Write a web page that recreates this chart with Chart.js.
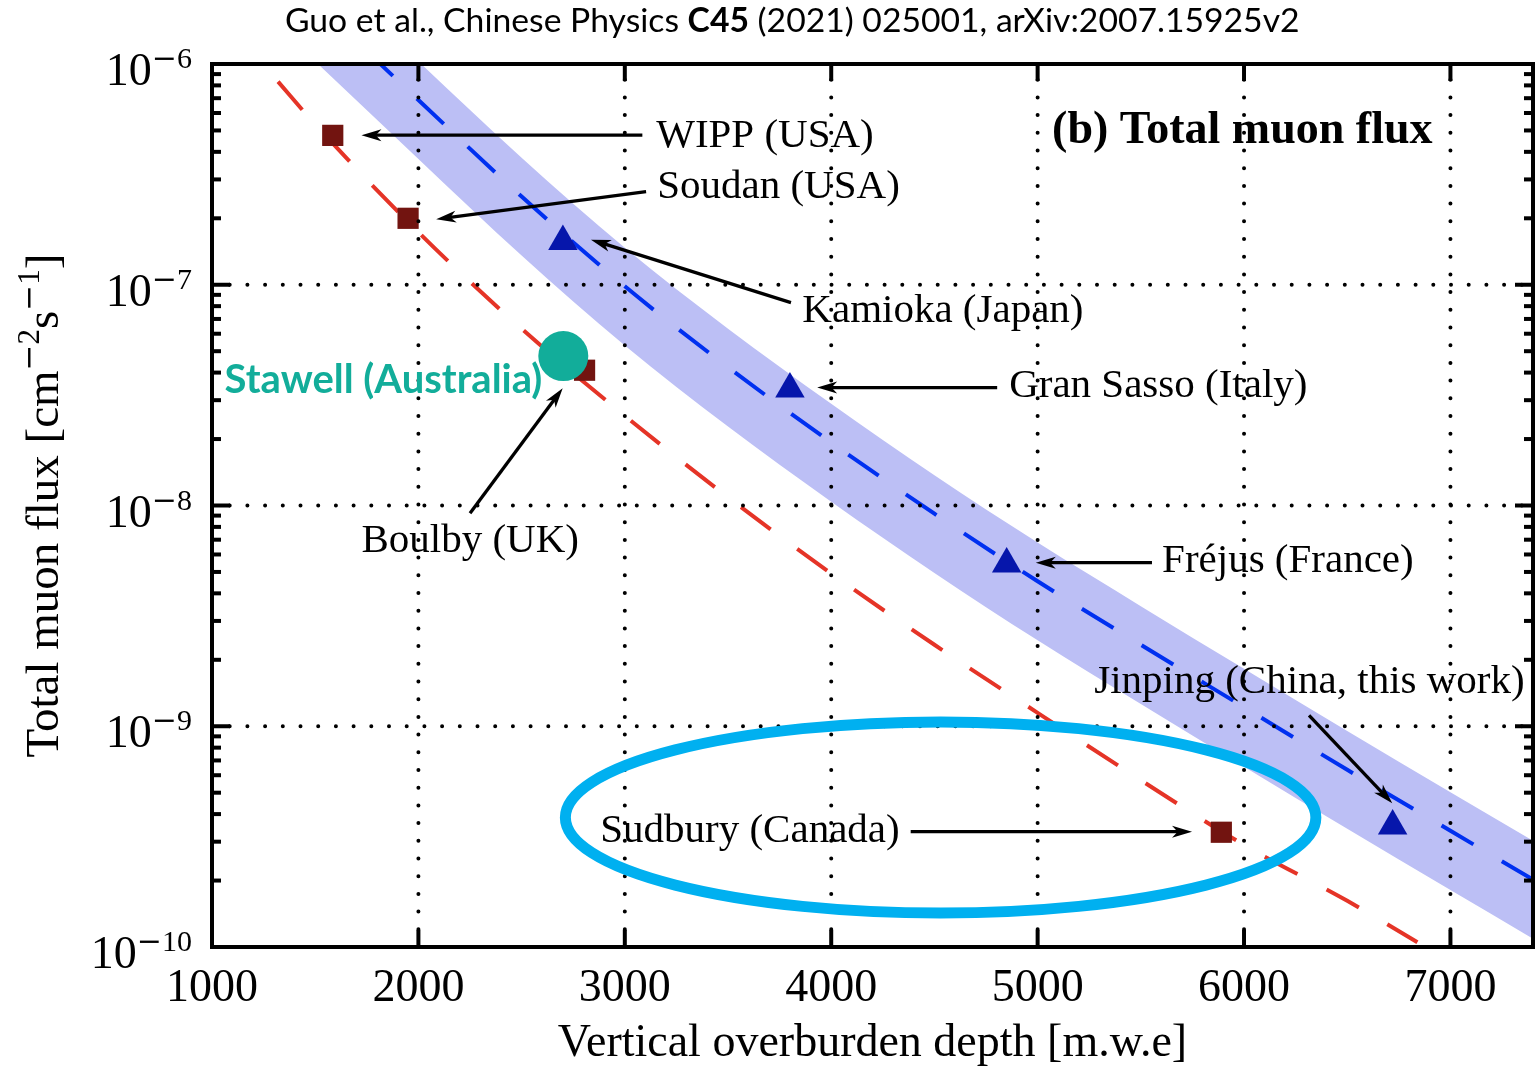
<!DOCTYPE html>
<html>
<head>
<meta charset="utf-8">
<script src="https://cdn.jsdelivr.net/npm/chart.js@4.4.1/dist/chart.umd.min.js"></script>
<style>
  html, body { margin: 0; padding: 0; background: #fff; overflow: hidden; }
  #wrap { width: 1537px; height: 1067px; position: relative; }
</style>
</head>
<body>
<div id="wrap"><canvas id="canvas"></canvas></div>
<script>
// depth in m.w.e, flux in cm^-2 s^-1
const curveDepth = [1500, 2000, 2500, 3000, 3500, 4000, 4500, 5000, 5500, 6000, 6500, 7000, 7400];
const mountFlux = [1.905e-6, 6.87e-7, 2.51e-7, 9.84e-8, 4.23e-8, 1.93e-8, 9.18e-9, 4.54e-9, 2.34e-9, 1.22e-9, 6.35e-10, 3.36e-10, 2.02e-10];
const bandUpper = [2.85e-6, 1.028e-6, 3.76e-7, 1.47e-7, 6.32e-8, 2.89e-8, 1.37e-8, 6.79e-9, 3.50e-9, 1.82e-9, 9.51e-10, 5.02e-10, 3.03e-10];
const bandLower = [1.028e-6, 3.71e-7, 1.355e-7, 5.31e-8, 2.28e-8, 1.04e-8, 4.95e-9, 2.45e-9, 1.26e-9, 6.56e-10, 3.43e-10, 1.81e-10, 1.09e-10];

const flatDepth = [1320, 1500, 2000, 2500, 3000, 3500, 4000, 4500, 5000, 5500, 6000, 6500, 6840];
const flatFlux = [8.32e-7, 5.33e-7, 1.73e-7, 6.32e-8, 2.55e-8, 1.09e-8, 4.92e-9, 2.34e-9, 1.15e-9, 5.70e-10, 2.90e-10, 1.62e-10, 1.05e-10];

// flat overburden labs (squares)
const flatLabDepth = [1585, 1950, 2805, 5890];
const flatLabFlux = [4.75e-7, 2.0e-7, 4.1e-8, 3.31e-10];
// mountain labs (triangles)
const mountLabDepth = [2700, 3800, 4850, 6720];
const mountLabFlux = [1.57e-7, 3.37e-8, 5.43e-9, 3.53e-10];
// Stawell
const stawellDepth = [2702];
const stawellFlux = [4.75e-8];

const xTicks = [1000, 2000, 3000, 4000, 5000, 6000, 7000];
const yDecades = [-10, -9, -8, -7, -6];

// labels, left end of baseline in data units
const labelText = ["WIPP (USA)", "Soudan (USA)", "Kamioka (Japan)", "Gran Sasso (Italy)", "Fréjus (France)", "Jinping (China, this work)", "Sudbury (Canada)", "Boulby (UK)"];
const labelDepth = [3152, 3157, 3860, 4862, 5603, 5274, 2881, 1724];
const labelFlux = [4.21e-7, 2.47e-7, 6.81e-8, 3.11e-8, 5.01e-9, 1.42e-9, 3.00e-10, 6.18e-9];
// arrows tail -> head
const arrowFromDepth = [3085, 3103, 3805, 4804, 5554, 6315, 4385, 2250];
const arrowFromFlux = [4.76e-7, 2.64e-7, 8.30e-8, 3.42e-8, 5.51e-9, 1.12e-9, 3.33e-10, 9.23e-9];
const arrowToDepth = [1724, 2086, 2836, 3932, 4991, 6718, 5748, 2699];
const arrowToFlux = [4.76e-7, 1.98e-7, 1.60e-7, 3.42e-8, 5.51e-9, 4.48e-10, 3.33e-10, 3.40e-8];

// Sudbury ellipse: centre depth, centre flux, half width (m.w.e), half height (decades)
const ringCentre = [4530, 3.86e-10];
const ringHalf = [1818, 0.433];

const SERIF = '"Liberation Serif", "Times New Roman", serif';
const MINUS_FONT = '"DejaVu Serif", serif';
const SANS = 'Lato, "Open Sans", sans-serif';

function pts(xs, ys) {
    return xs.map((x, i) => ({x: x, y: ys[i]}));
}

function line(ctx, x1, y1, x2, y2) {
    ctx.beginPath();
    ctx.moveTo(x1, y1);
    ctx.lineTo(x2, y2);
    ctx.stroke();
}

function arrow(ctx, x1, y1, x2, y2) {
    const a = Math.atan2(y2 - y1, x2 - x1);
    const len = 20, half = 6;
    ctx.lineWidth = 3.3;
    line(ctx, x1, y1, x2 - Math.cos(a) * len * 0.7, y2 - Math.sin(a) * len * 0.7);
    ctx.save();
    ctx.translate(x2, y2);
    ctx.rotate(a);
    ctx.beginPath();
    ctx.moveTo(0, 0);
    ctx.lineTo(-len, -half);
    ctx.lineTo(-len * 0.72, 0);
    ctx.lineTo(-len, half);
    ctx.closePath();
    ctx.fill();
    ctx.restore();
}

function fitSize(ctx, parts, family, target) {
    let w = 0;
    for (const p of parts) {
        ctx.font = p[1] + '100px ' + family;
        w += ctx.measureText(p[0]).width;
    }
    return 100 * target / w;
}

// pieces of a power like 10^-6: [text, font, size, rise]
function powerPieces(base, digits, big, small, rise) {
    return [[base, SERIF, big, 0], ['\u2212', MINUS_FONT, small, rise], [digits, SERIF, small, rise]];
}

function measurePieces(ctx, pieces) {
    let w = 0;
    pieces.forEach(p => {
        ctx.font = p[2] + 'px ' + p[1];
        p[4] = ctx.measureText(p[0]).width;
        w += p[4];
    });
    return w;
}

function drawPieces(ctx, pieces, x0, y0) {
    let tx = x0;
    pieces.forEach(p => {
        ctx.font = p[2] + 'px ' + p[1];
        ctx.fillText(p[0], tx, y0 + p[3]);
        tx += p[4];
    });
}

const decor = {
    id: 'decor',
    afterDatasetsDraw(chart) {
        const ctx = chart.ctx;
        const x = chart.scales.x, y = chart.scales.y;
        const a = chart.chartArea;
        ctx.save();

        // labels
        ctx.fillStyle = '#000';
        ctx.textBaseline = 'alphabetic';
        ctx.textAlign = 'left';
        ctx.font = '41px ' + SERIF;
        labelText.forEach((t, i) => {
            ctx.fillText(t, x.getPixelForValue(labelDepth[i]), y.getPixelForValue(labelFlux[i]));
        });
        ctx.font = 'bold 46px ' + SERIF;
        ctx.fillText('(b) Total muon flux', x.getPixelForValue(5070), y.getPixelForValue(4.39e-7));

        // dotted grid
        ctx.strokeStyle = '#000';
        ctx.lineWidth = 4;
        ctx.lineCap = 'round';
        ctx.setLineDash([0, 17.7]);
        xTicks.slice(1).forEach(v => {
            const xx = x.getPixelForValue(v);
            line(ctx, xx, a.bottom, xx, a.top);
        });
        yDecades.slice(1, -1).forEach(n => {
            const yy = y.getPixelForValue(Math.pow(10, n));
            line(ctx, a.left, yy, a.right, yy);
        });
        ctx.setLineDash([]);
        ctx.lineCap = 'butt';

        // Sudbury ring
        const cx = x.getPixelForValue(ringCentre[0]);
        const cy = y.getPixelForValue(ringCentre[1]);
        const rx = x.getPixelForValue(ringCentre[0] + ringHalf[0]) - cx;
        const ry = cy - y.getPixelForValue(ringCentre[1] * Math.pow(10, ringHalf[1]));
        ctx.strokeStyle = '#00b0f0';
        ctx.lineWidth = 11;
        ctx.beginPath();
        ctx.ellipse(cx, cy, rx, ry, 0, 0, Math.PI * 2);
        ctx.stroke();

        // arrows
        ctx.strokeStyle = '#000';
        ctx.fillStyle = '#000';
        arrowFromDepth.forEach((d, i) => {
            arrow(ctx, x.getPixelForValue(d), y.getPixelForValue(arrowFromFlux[i]),
                x.getPixelForValue(arrowToDepth[i]), y.getPixelForValue(arrowToFlux[i]));
        });

        // Stawell label
        const sSize = fitSize(ctx, [['Stawell (Australia)', 'bold ']], SANS, 318);
        ctx.font = 'bold ' + sSize.toFixed(1) + 'px ' + SANS;
        ctx.fillStyle = '#12ad9a';
        ctx.fillText('Stawell (Australia)', x.getPixelForValue(1061), y.getPixelForValue(3.24e-8));
        ctx.restore();
    },
    afterDraw(chart) {
        const ctx = chart.ctx;
        const x = chart.scales.x, y = chart.scales.y;
        const a = chart.chartArea;
        ctx.save();
        ctx.strokeStyle = '#000';
        ctx.fillStyle = '#000';

        // ticks, inward on all sides
        ctx.lineWidth = 4;
        xTicks.slice(1).forEach(v => {
            const xx = x.getPixelForValue(v);
            line(ctx, xx, a.bottom, xx, a.bottom - 17);
            line(ctx, xx, a.top, xx, a.top + 17);
        });
        for (let n = -10; n < -6; n++) {
            for (let m = 1; m < 10; m++) {
                const yy = y.getPixelForValue(m * Math.pow(10, n));
                const len = m === 1 ? 18 : 9;
                line(ctx, a.left, yy, a.left + len, yy);
                line(ctx, a.right, yy, a.right - len, yy);
            }
        }
        ctx.strokeRect(a.left, a.top, a.right - a.left, a.bottom - a.top);

        // y tick labels 10^n
        ctx.textBaseline = 'alphabetic';
        ctx.textAlign = 'left';
        yDecades.forEach(n => {
            const yy = y.getPixelForValue(Math.pow(10, n));
            const pieces = powerPieces('10', String(-n), 46, 30, -17);
            const w = measurePieces(ctx, pieces);
            drawPieces(ctx, pieces, 192 - w, yy + 21);
        });

        // y title, rotated
        const segs = [['Total muon flux [cm', SERIF, 47, 0], ['\u2212', MINUS_FONT, 31, -19], ['2', SERIF, 31, -19],
            ['s', SERIF, 47, 0], ['\u2212', MINUS_FONT, 31, -19], ['1', SERIF, 31, -19], [']', SERIF, 47, 0]];
        const total = measurePieces(ctx, segs);
        ctx.save();
        ctx.translate(58, (a.top + a.bottom) / 2);
        ctx.rotate(-Math.PI / 2);
        drawPieces(ctx, segs, -total / 2, 0);
        ctx.restore();

        // top caption
        const parts = [['Guo et al., Chinese Physics ', ''], ['C45', 'bold '], [' (2021) 025001, arXiv:2007.15925v2', '']];
        const size = fitSize(ctx, parts, SANS, 1015);
        let cx = 285;
        parts.forEach(p => {
            ctx.font = p[1] + size.toFixed(1) + 'px ' + SANS;
            ctx.fillText(p[0], cx, 32);
            cx += ctx.measureText(p[0]).width;
        });
        ctx.restore();
    }
};

const curveStyle = {showLine: true, pointRadius: 0, cubicInterpolationMode: 'monotone'};

new Chart(document.getElementById('canvas'), {
    type: 'scatter',
    data: {
        datasets: [
            {label: 'Stawell', data: pts(stawellDepth, stawellFlux), pointStyle: 'circle', pointRadius: 25,
                backgroundColor: '#12ad9a', borderWidth: 0},
            {label: 'Mountain labs', data: pts(mountLabDepth, mountLabFlux), pointStyle: 'triangle', pointRadius: 17,
                backgroundColor: '#0616ab', borderWidth: 0},
            {label: 'Flat labs', data: pts(flatLabDepth, flatLabFlux), pointStyle: 'rect', pointRadius: 15,
                backgroundColor: '#721410', borderWidth: 0},
            Object.assign({label: 'Mountain fit', data: pts(curveDepth, mountFlux), borderColor: '#0030f0',
                borderWidth: 4, borderDash: [37, 33]}, curveStyle),
            Object.assign({label: 'Flat fit', data: pts(flatDepth, flatFlux), borderColor: '#e53427',
                borderWidth: 4, borderDash: [37, 33]}, curveStyle),
            Object.assign({label: 'Band upper', data: pts(curveDepth, bandUpper), borderColor: 'rgba(0,0,0,0)',
                borderWidth: 0, backgroundColor: '#bcbff5', fill: '+1'}, curveStyle),
            Object.assign({label: 'Band lower', data: pts(curveDepth, bandLower), borderColor: 'rgba(0,0,0,0)',
                borderWidth: 0, fill: false}, curveStyle)
        ]
    },
    options: {
        responsive: true,
        maintainAspectRatio: false,
        animation: false,
        devicePixelRatio: 1,
        layout: {autoPadding: false, padding: {top: 64, right: 4, left: 0, bottom: 0}},
        plugins: {legend: {display: false}, tooltip: {enabled: false}},
        scales: {
            x: {
                type: 'linear', min: 1000, max: 7400,
                afterBuildTicks: s => { s.ticks = xTicks.map(v => ({value: v})); },
                afterFit: s => { s.height = 120; s.paddingLeft = 0; s.paddingRight = 0; },
                grid: {display: false, drawTicks: false},
                border: {display: false},
                ticks: {font: {family: SERIF, size: 46}, color: '#000', padding: 14, maxRotation: 0,
                    autoSkip: false, callback: v => String(v)},
                title: {display: true, text: 'Vertical overburden depth [m.w.e]', color: '#000',
                    font: {family: SERIF, size: 46, lineHeight: 1}, padding: {top: 0, bottom: 0}}
            },
            y: {
                type: 'logarithmic', min: 1e-10, max: 1e-6,
                afterFit: s => { s.width = 212; },
                ticks: {display: false},
                grid: {display: false},
                border: {display: false}
            }
        }
    },
    plugins: [decor]
});
</script>
</body>
</html>
